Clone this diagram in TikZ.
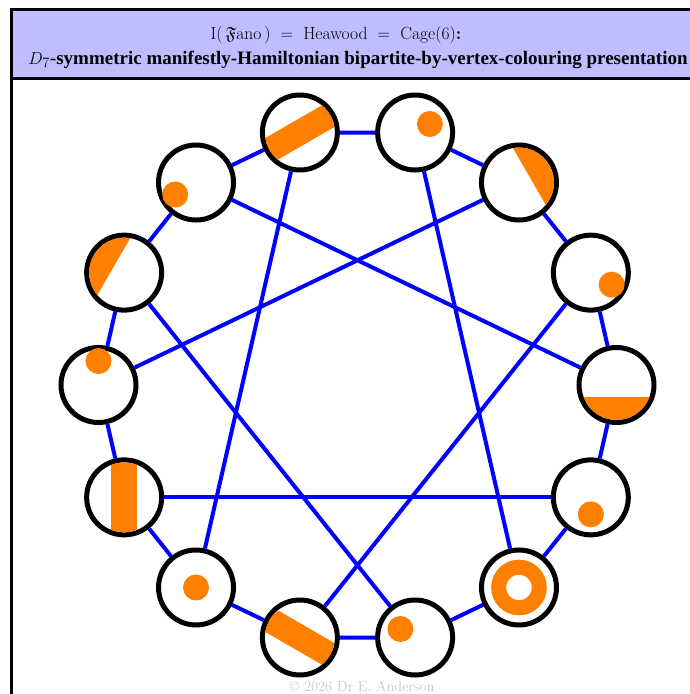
\documentclass[tikz,border=0pt]{standalone}
\usepackage{amsmath,amssymb,amsfonts}
\usepackage{fontspec}
\newfontfamily\timesfont{Liberation Serif}
\usepackage{tikz}
\definecolor{hdrblue}{RGB}{189,189,255}
\definecolor{fano}{RGB}{255,128,0}

\begin{document}
\begin{tikzpicture}[
  x=1pt, y=1pt,
  vx/.style={circle,draw=black,line width=5pt,fill=white,minimum size=75pt,
             inner sep=0pt},
  ed/.style={blue,line width=4pt},
  mk/.style={fill=fano}]
\useasboundingbox (-357.5,-309) rectangle (332.5,385);
% frame and header band
\fill[hdrblue] (-345,374) rectangle (332.5,308);
\draw[line width=3pt] (-346,-309) -- (-346,375.5) -- (332.5,375.5);
\draw[line width=3pt] (-346,306.5) -- (332.5,306.5);
\node[anchor=base] (ttl) at (-21.5,345)
  {\fontsize{17.6}{19}\selectfont I(\,$\mathfrak{F}$ano\,) $\;=\;$ Heawood $\;=\;$ Cage(6)\textbf{:}};
\node[anchor=base] (sub) at (0.5,320.5)
  {\timesfont\bfseries\fontsize{19}{22}\selectfont $D_7$-symmetric manifestly-Hamiltonian bipartite-by-vertex-colouring presentation};
\node[anchor=base,text=black!22] (copy) at (4.5,-306)
  {\fontsize{14.4}{16}\selectfont \copyright{} 2026 Dr E. Anderson};
% vertices on the Hamiltonian cycle
\foreach \i in {0,...,13}
  \node[vx] (v\i) at ({\i*360/14}:259) {};
% cycle edges and chords
\foreach \i [evaluate=\i as \j using {int(mod(\i+1,14))}] in {0,...,13}
  \draw[ed] (v\i) -- (v\j);
\foreach \i [evaluate=\i as \j using {int(mod(\i+5,14))}] in {0,2,...,12}
  \draw[ed] (v\i) -- (v\j);
% Fano points (dots) and lines (bands, segments, ring)
\foreach \n/\a/\r in {1/330/24,3/30/17,5/210/24,7/90/24,9/0/0,11/150/17,13/270/17}
  \fill[mk] ([shift={(\a:\r)}]v\n.center) circle (13);
\begin{scope}[shift={(v0.center)}]
  \clip (0,0) circle (35); \fill[mk] (-40,-12) rectangle (40,-40);
\end{scope}
\begin{scope}[shift={(v2.center)}]
  \clip (0,0) circle (35); \fill[mk,rotate=30] (12,-40) rectangle (40,40);
\end{scope}
\begin{scope}[shift={(v4.center)}]
  \clip (0,0) circle (35); \fill[mk,rotate=30] (-40,-12.5) rectangle (40,12.5);
\end{scope}
\begin{scope}[shift={(v6.center)}]
  \clip (0,0) circle (35); \fill[mk,rotate=150] (12,-40) rectangle (40,40);
\end{scope}
\begin{scope}[shift={(v8.center)}]
  \clip (0,0) circle (35); \fill[mk] (-13.3,-40) rectangle (13.3,40);
\end{scope}
\begin{scope}[shift={(v10.center)}]
  \clip (0,0) circle (35); \fill[mk,rotate=-30] (-40,-12.5) rectangle (40,12.5);
\end{scope}
\draw[fano,line width=15pt] (v12.center) circle (20.3);
\end{tikzpicture}
\end{document}
